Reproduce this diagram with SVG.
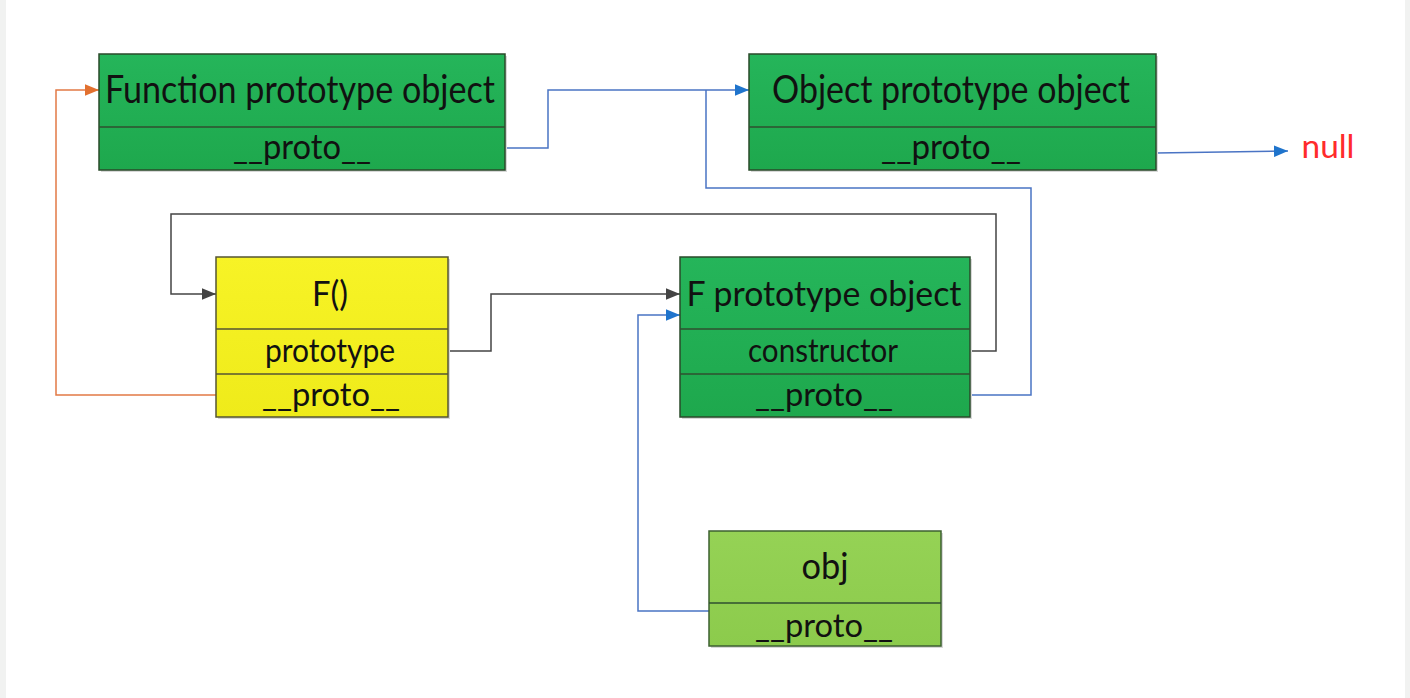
<svg xmlns="http://www.w3.org/2000/svg" width="1410" height="698" viewBox="0 0 1410 698">
  <style>
    .t { font-family: Lato, "Open Sans", "Liberation Sans", sans-serif; fill: #111; text-anchor: middle; }
    .dg { fill: url(#gDark); stroke: #2a4a2a; stroke-width: 1.5; }
    .yl { fill: url(#gYellow); stroke: #555533; stroke-width: 1.5; }
    .lg { fill: url(#gLight); stroke: #3d6030; stroke-width: 1.5; }
    .div { stroke: #2f4f2f; stroke-width: 1.5; }
    .divy { stroke: #555533; stroke-width: 1.5; }
    .sh { fill: #d8d8d8; }
    .c { fill: none; stroke-width: 1.5; }
    .blue { stroke: #4a74c4; }
    .orange { stroke: #e27a45; }
    .gray { stroke: #444; }
  </style>
  <defs>
    <linearGradient id="gDark" x1="0" y1="0" x2="0" y2="1">
      <stop offset="0" stop-color="#25b55a"/>
      <stop offset="1" stop-color="#1ea84d"/>
    </linearGradient>
    <linearGradient id="gYellow" x1="0" y1="0" x2="0" y2="1">
      <stop offset="0" stop-color="#f7f326"/>
      <stop offset="1" stop-color="#efeb1a"/>
    </linearGradient>
    <linearGradient id="gLight" x1="0" y1="0" x2="0" y2="1">
      <stop offset="0" stop-color="#95d255"/>
      <stop offset="1" stop-color="#8ccb4c"/>
    </linearGradient>
    <marker id="aBlue" viewBox="0 0 12 10" refX="12" refY="5" markerWidth="14" markerHeight="12" markerUnits="userSpaceOnUse" orient="auto">
      <path d="M0,0 L12,5 L0,10 z" fill="#1f74cc"/>
    </marker>
    <marker id="aOrange" viewBox="0 0 12 10" refX="12" refY="5" markerWidth="14" markerHeight="12" markerUnits="userSpaceOnUse" orient="auto">
      <path d="M0,0 L12,5 L0,10 z" fill="#e2702f"/>
    </marker>
    <marker id="aGray" viewBox="0 0 12 10" refX="12" refY="5" markerWidth="14" markerHeight="12" markerUnits="userSpaceOnUse" orient="auto">
      <path d="M0,0 L12,5 L0,10 z" fill="#444"/>
    </marker>
  </defs>

  <rect x="0" y="0" width="1410" height="698" fill="#ffffff"/>
  <rect x="0" y="0" width="6" height="698" fill="#f1f2f1"/>
  <rect x="1405" y="0" width="5" height="698" fill="#f1f2f1"/>

  <g id="connectors">
    <path class="c orange" d="M216,395 H56 V90 H99" marker-end="url(#aOrange)"/>
    <path class="c blue" d="M505,148 H548 V90 H749" marker-end="url(#aBlue)"/>
    <path class="c blue" d="M970,395 H1031 V188 H706 V90"/>
    <path class="c gray" d="M448,351 H491 V294 H680" marker-end="url(#aGray)"/>
    <path class="c gray" d="M970,351 H996 V214 H171 V294 H216" marker-end="url(#aGray)"/>
    <path class="c blue" d="M709,611 H638 V315 H680" marker-end="url(#aBlue)"/>
    <path class="c blue" d="M1156,153 L1288,151" marker-end="url(#aBlue)"/>
  </g>

  <g id="function-prototype">
    <rect class="sh" x="101" y="56" width="406" height="116"/>
    <rect class="dg" x="99" y="54" width="406" height="116"/>
    <line class="div" x1="99" y1="127" x2="505" y2="127"/>
    <text class="t" x="300" y="103" font-size="39" textLength="390" lengthAdjust="spacingAndGlyphs">Function prototype object</text>
    <text class="t" x="302" y="159" font-size="35" textLength="138" lengthAdjust="spacingAndGlyphs">__proto__</text>
  </g>

  <g id="object-prototype">
    <rect class="sh" x="751" y="56" width="407" height="116"/>
    <rect class="dg" x="749" y="54" width="407" height="116"/>
    <line class="div" x1="749" y1="127" x2="1156" y2="127"/>
    <text class="t" x="951" y="103" font-size="39" textLength="358" lengthAdjust="spacingAndGlyphs">Object prototype object</text>
    <text class="t" x="951" y="159" font-size="35" textLength="140" lengthAdjust="spacingAndGlyphs">__proto__</text>
  </g>

  <g id="null">
    <text x="1328" y="158" font-family="Lato, 'Open Sans', 'Liberation Sans', sans-serif" font-size="33" fill="#ff2b2b" text-anchor="middle" textLength="53" lengthAdjust="spacingAndGlyphs">null</text>
  </g>

  <g id="F">
    <rect class="sh" x="218" y="259" width="232" height="160"/>
    <rect class="yl" x="216" y="257" width="232" height="160"/>
    <line class="divy" x1="216" y1="329" x2="448" y2="329"/>
    <line class="divy" x1="216" y1="374" x2="448" y2="374"/>
    <text class="t" x="330" y="306" font-size="35" textLength="36" lengthAdjust="spacingAndGlyphs">F()</text>
    <text class="t" x="330" y="362" font-size="32" textLength="130" lengthAdjust="spacingAndGlyphs">prototype</text>
    <text class="t" x="331" y="406" font-size="32" textLength="138" lengthAdjust="spacingAndGlyphs">__proto__</text>
  </g>

  <g id="F-prototype">
    <rect class="sh" x="682" y="259" width="290" height="160"/>
    <rect class="dg" x="680" y="257" width="290" height="160"/>
    <line class="div" x1="680" y1="329" x2="970" y2="329"/>
    <line class="div" x1="680" y1="374" x2="970" y2="374"/>
    <text class="t" x="824" y="306" font-size="35" textLength="275" lengthAdjust="spacingAndGlyphs">F prototype object</text>
    <text class="t" x="823" y="362" font-size="32" textLength="150" lengthAdjust="spacingAndGlyphs">constructor</text>
    <text class="t" x="824" y="406" font-size="32" textLength="138" lengthAdjust="spacingAndGlyphs">__proto__</text>
  </g>

  <g id="obj">
    <rect class="sh" x="711" y="533" width="232" height="115"/>
    <rect class="lg" x="709" y="531" width="232" height="115"/>
    <line class="div" x1="709" y1="603" x2="941" y2="603"/>
    <text class="t" x="825" y="579" font-size="37" textLength="47" lengthAdjust="spacingAndGlyphs">obj</text>
    <text class="t" x="824" y="637" font-size="33" textLength="138" lengthAdjust="spacingAndGlyphs">__proto__</text>
  </g>
</svg>
